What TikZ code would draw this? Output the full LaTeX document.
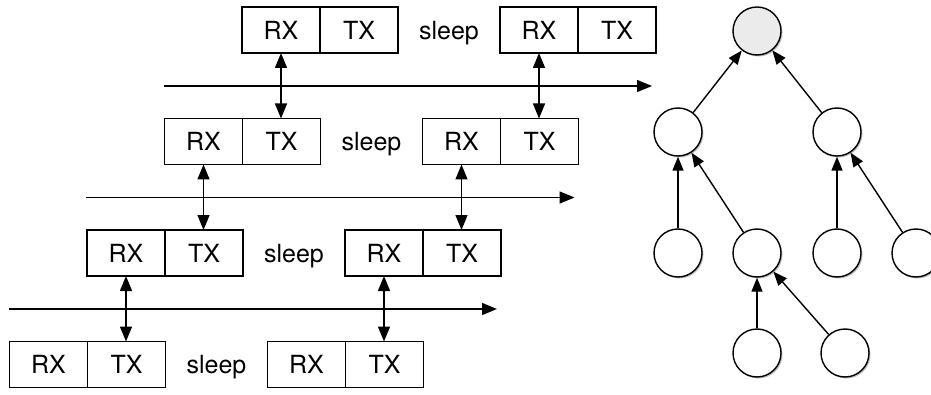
\documentclass[tikz,border=0pt]{standalone}
\usepackage{fontspec}
\setmainfont{TeX Gyre Heros}
\usepackage{tikz}
\usetikzlibrary{positioning,arrows.meta,calc,shadows}

\begin{document}
\begin{tikzpicture}[x=1pt,y=1pt,
  cell/.style={draw,line width=1.4pt,minimum width=78pt,minimum height=46pt,inner sep=0pt,outer sep=0pt,font=\fontsize{25}{30}\selectfont},
  word/.style={inner sep=0pt,anchor=base,font=\fontsize{25}{30}\selectfont},
  axis/.style={line width=1.4pt,-{Triangle[length=15pt,width=12pt]}},
  link/.style={line width=1.4pt,{Triangle[length=15pt,width=12pt]}-{Triangle[length=15pt,width=12pt]}},
  mote/.style={circle,draw,line width=1.4pt,fill=white,minimum size=48pt,inner sep=0pt,
    drop shadow={fill=black,opacity=0.25,shadow xshift=1.5pt,shadow yshift=-1.5pt}},
  edge/.style={line width=1.4pt,-{Triangle[length=14pt,width=11pt]}}]
\definecolor{sinkColor}{RGB}{235,235,235}
\path[use as bounding box] (0,0) rectangle (931,394);

% duty cycle of each level, shifted by one slot per level
\foreach \i in {0,...,3}{
  \pgfmathsetmacro\L{242-77.5*\i}
  \pgfmathsetmacro\Y{364-111.5*\i}
  \node[cell] (rxA\i) at (\L+39,\Y) {RX};
  \node[cell,right=0pt of rxA\i] (txA\i) {TX};
  \node[cell,right=102pt of txA\i] (rxB\i) {RX};
  \node[cell,right=0pt of rxB\i] (txB\i) {TX};
  \coordinate (gap\i) at ($(txA\i.east)!0.5!(rxB\i.west)$);
  \node[word] (sleep\i) at (gap\i |- txA\i.base) {sleep};
}

% time axes and exchanges between neighbouring levels
\foreach \i/\j in {0/1,1/2,2/3}{
  \pgfmathsetmacro\Yax{364-111.5*\i-56}
  \pgfmathsetmacro\S{242-77.5*\j-1}
  \pgfmathsetmacro\E{242-77.5*\i+410}
  \coordinate (axS\i) at (\S,\Yax);
  \coordinate (axE\i) at (\E,\Yax);
  \draw[axis] (axS\i) -- (axE\i);
  \draw[link] (rxA\i.south) -- (rxA\i.south |- txA\j.north);
  \draw[link] (rxB\i.south) -- (rxB\i.south |- txB\j.north);
}

% routing tree
\node[mote,fill=sinkColor] (root) at (757,363) {};
\node[mote] (n1) at (678,262) {};
\node[mote] (n2) at (837,262) {};
\node[mote] (n3) at (678,141) {};
\node[mote] (n4) at (757,141) {};
\node[mote] (n5) at (837,141) {};
\node[mote] (n6) at (916,141) {};
\node[mote] (n7) at (757,41) {};
\node[mote] (n8) at (845,41) {};

\draw[edge] (n1) -- (root);
\draw[edge] (n2) -- (root);
\draw[edge] (n3) -- (n1);
\draw[edge] (n4) -- (n1);
\draw[edge] (n5) -- (n2);
\draw[edge] (n6) -- (n2);
\draw[edge] (n7) -- (n4);
\draw[edge] (n8) -- (n4);
\end{tikzpicture}
\end{document}
